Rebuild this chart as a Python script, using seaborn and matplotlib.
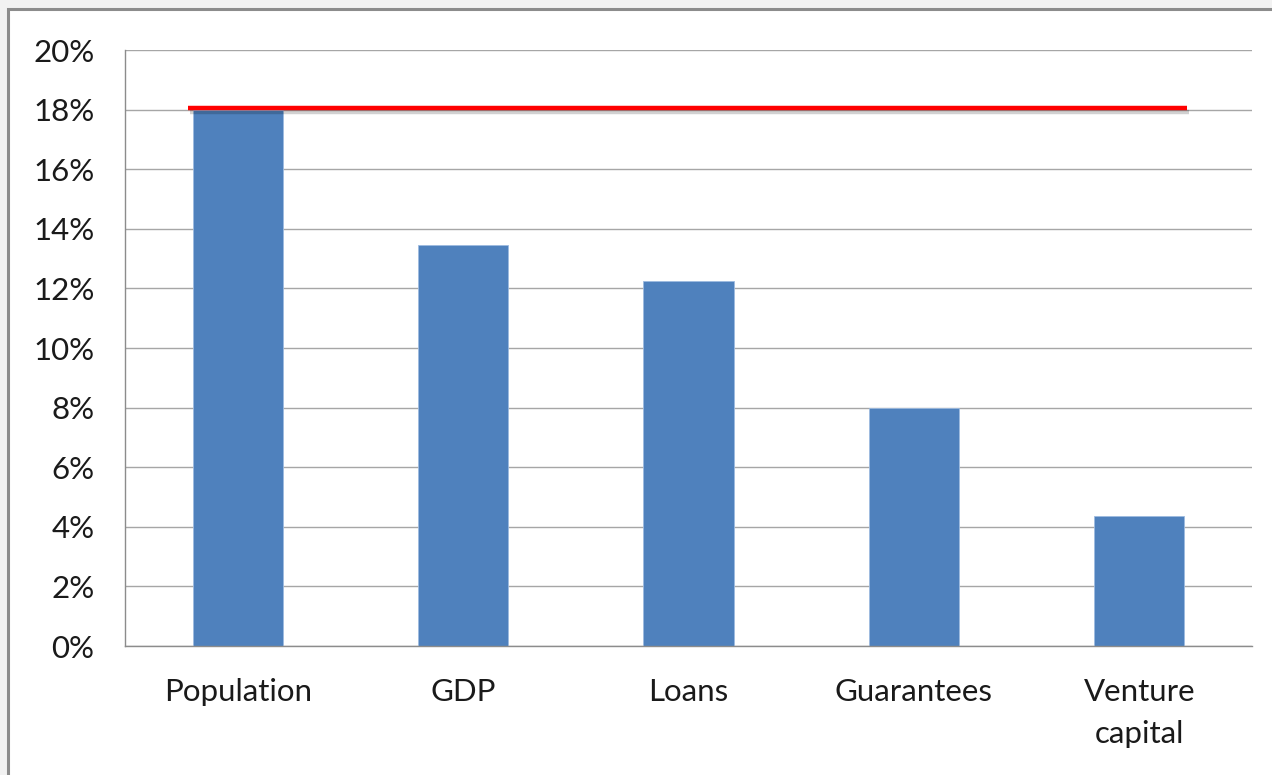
import matplotlib
matplotlib.use("Agg")
import matplotlib.pyplot as plt
import matplotlib.ticker as ticker
import matplotlib.patheffects as pe
from matplotlib.patches import Rectangle
import seaborn as sns
import pandas as pd

categories = ["Population", "GDP", "Loans", "Guarantees", "Venture\ncapital"]
shares = [0.18, 0.1345, 0.1225, 0.080, 0.0437]
benchmark = 0.1805
bench_x = [-0.22, 4.21]

sns.set_style("white")
plt.rcParams["font.family"] = ["Lato", "DejaVu Sans"]

fig = plt.figure(figsize=(12.72, 7.75), dpi=100)
fig.patch.set_facecolor("#f2f2f2")
fig.patches.append(Rectangle((8 / 1272, -0.05), 1.1, 1 - 9 / 775 + 0.05,
                             transform=fig.transFigure, facecolor="white",
                             edgecolor="#8c8c8c", linewidth=2.2, zorder=-10))

ax = fig.add_axes([125 / 1272, 1 - 646 / 775, (1252 - 125) / 1272, (646 - 50) / 775])
ax.set_facecolor("white")

df = pd.DataFrame({"category": categories, "share": shares})
sns.barplot(data=df, x="category", y="share", color="#4f81bd", width=0.4,
            saturation=1, edgecolor="#9dbbe0", linewidth=0.6, ax=ax, zorder=2)

ax.plot(bench_x, [benchmark, benchmark], color="#ff0000", linewidth=3.2,
        solid_capstyle="butt", zorder=3,
        path_effects=[pe.SimpleLineShadow(offset=(1.5, -2.5), alpha=0.18), pe.Normal()])

ax.set_ylim(0, 0.20)
ax.set_xlim(-0.5, 4.5)
ax.yaxis.set_major_locator(ticker.MultipleLocator(0.02))
ax.yaxis.set_major_formatter(ticker.PercentFormatter(1.0, decimals=0))
ax.yaxis.grid(True, color="#a6a6a6", linewidth=1.0)
ax.set_axisbelow(True)

ax.set_xticks(range(len(categories)))
ax.set_xticklabels(categories, linespacing=1.6)
ax.set_xticks([i - 0.5 for i in range(len(categories) + 1)], minor=True)
ax.tick_params(axis="x", which="major", length=0, pad=23, labelsize=22.5, labelcolor="#1a1a1a")
ax.tick_params(axis="x", which="minor", length=7.5, width=1.0, color="#8c8c8c", direction="out")
ax.tick_params(axis="y", length=7.9, width=1.0, color="#8c8c8c", direction="out",
               pad=14, labelsize=22.5, labelcolor="#1a1a1a")
ax.set_xlabel("")
ax.set_ylabel("")

for side in ["top", "right"]:
    ax.spines[side].set_visible(False)
for side in ["left", "bottom"]:
    ax.spines[side].set_color("#8c8c8c")
    ax.spines[side].set_linewidth(1.0)

fig.savefig("out.png", dpi=100, facecolor=fig.get_facecolor())
